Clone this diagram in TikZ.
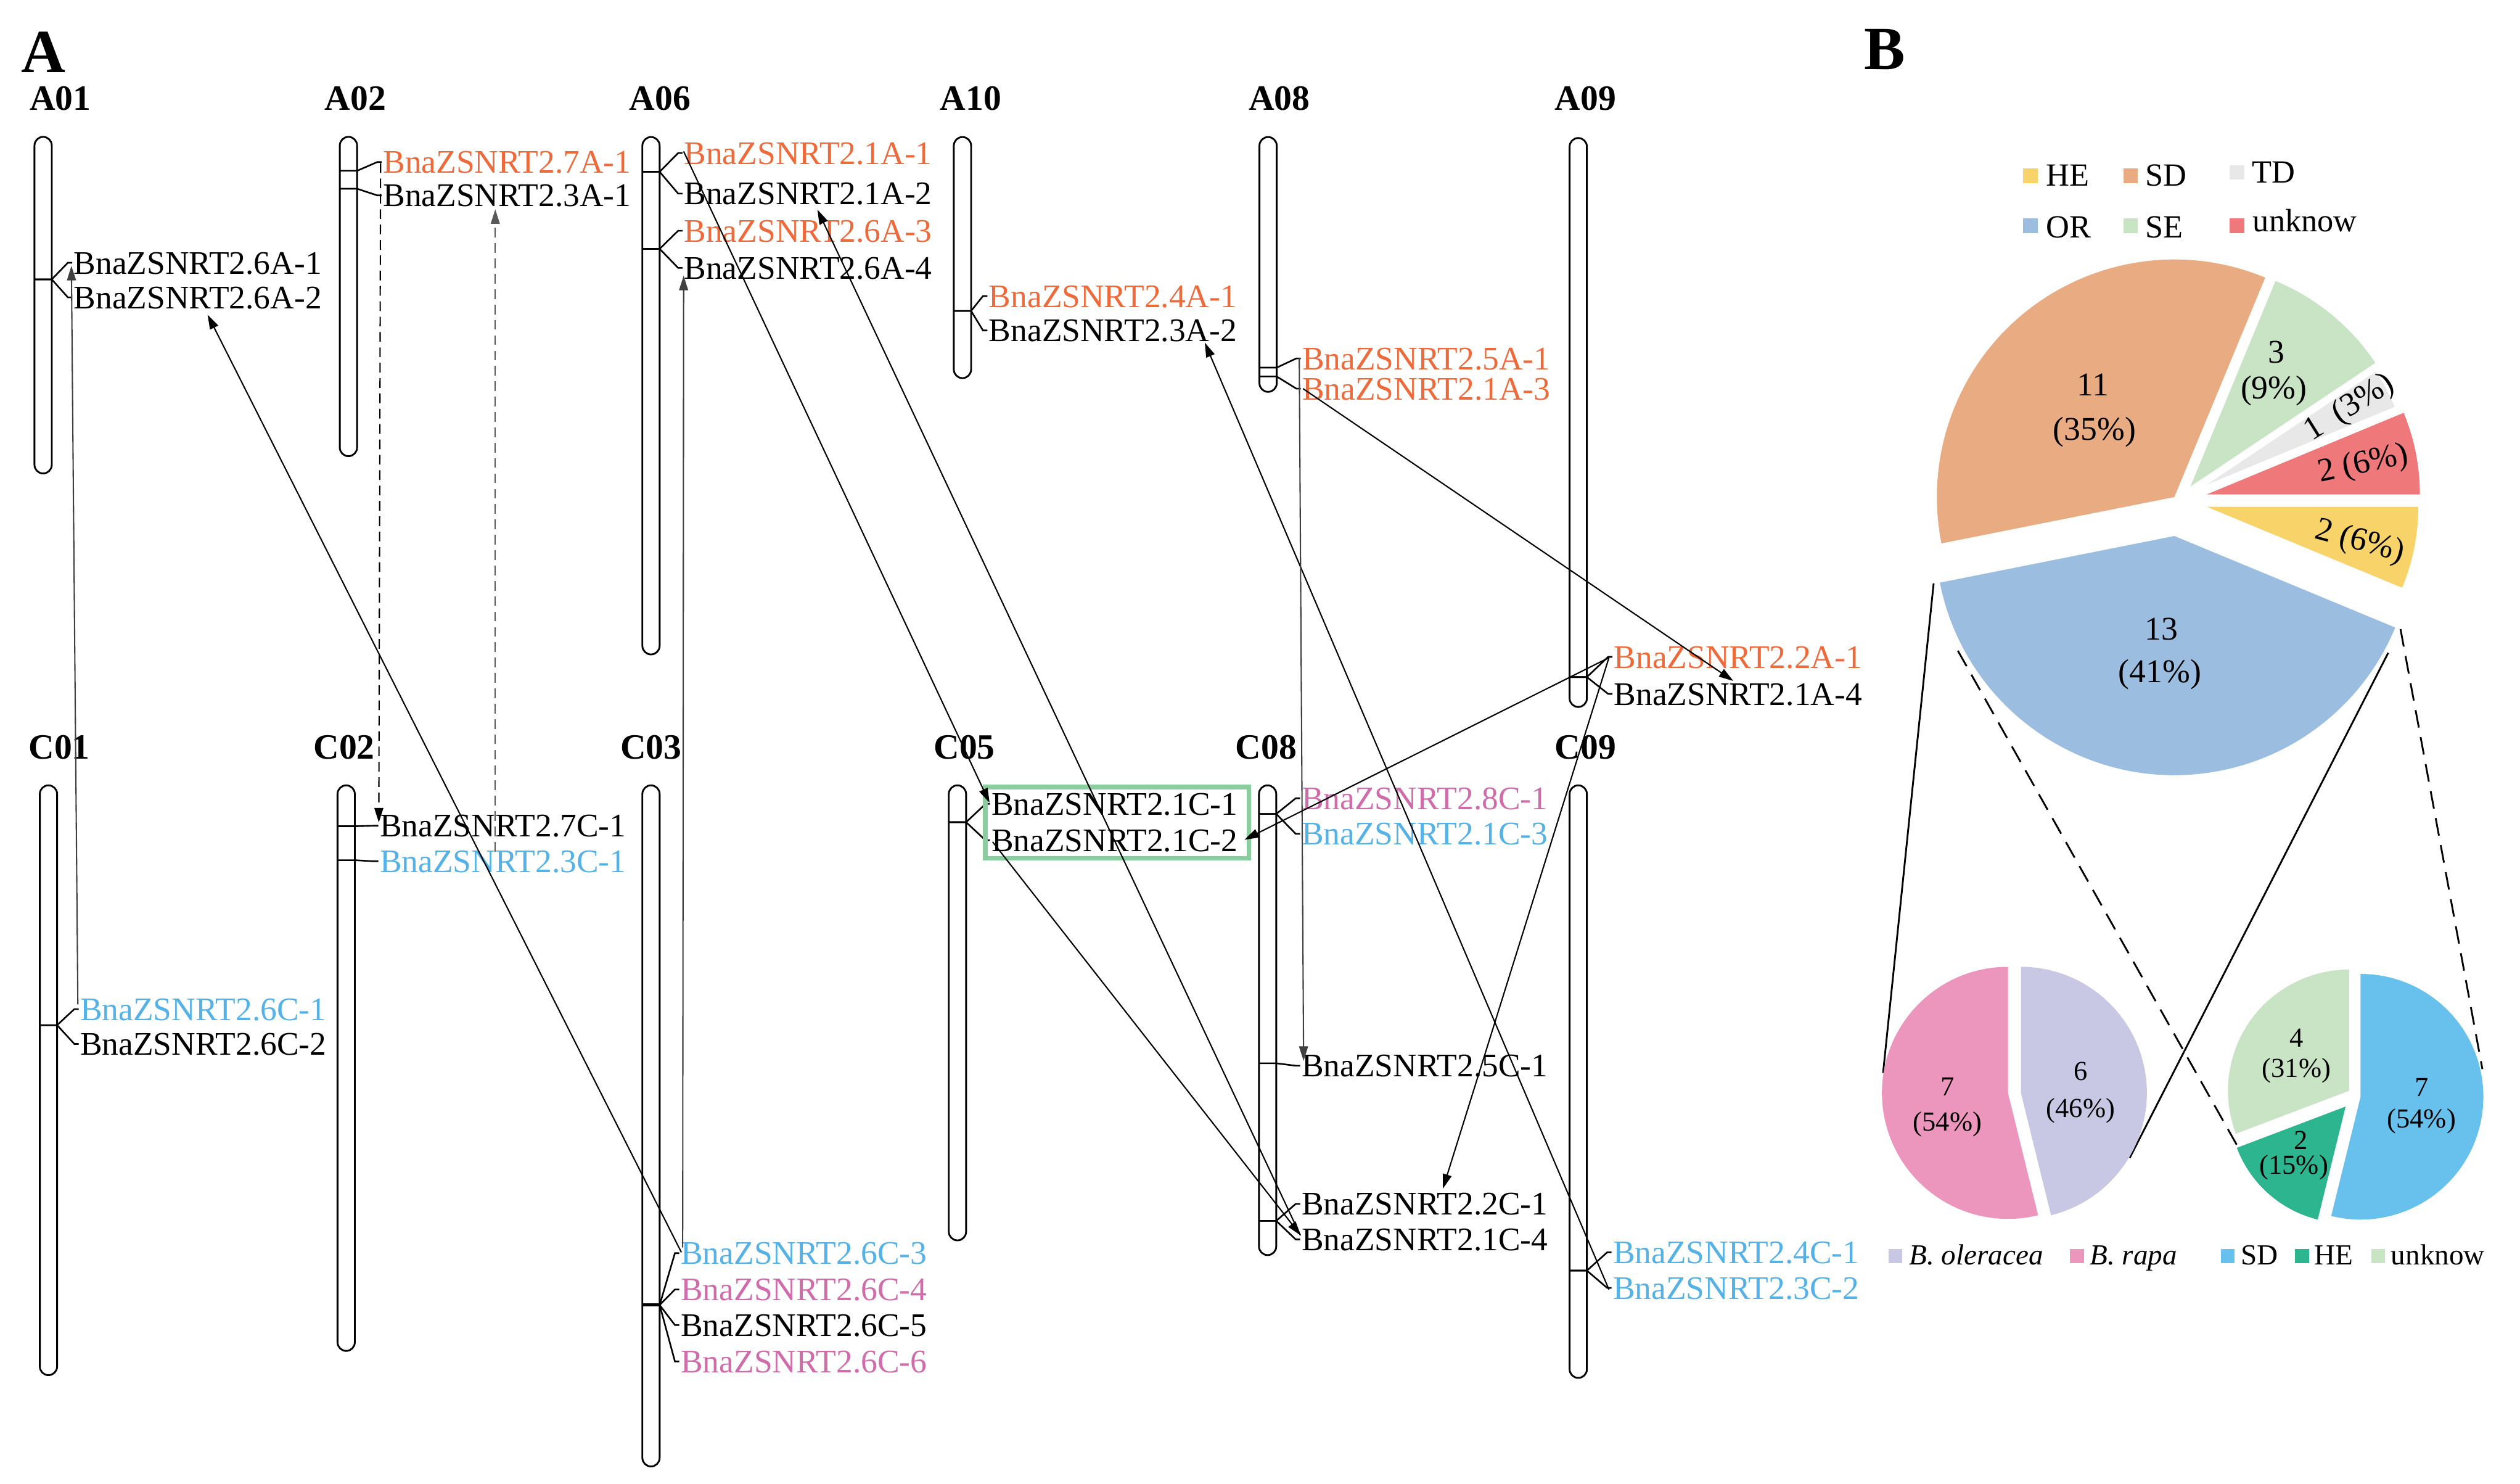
\documentclass[tikz,border=0pt]{standalone}
\usepackage{fontspec}
\setmainfont{Liberation Serif}
\usetikzlibrary{arrows.meta}
\definecolor{orng}{RGB}{239,106,58}
\definecolor{blu}{RGB}{84,178,230}
\definecolor{pnk}{RGB}{208,108,170}
\definecolor{boxg}{RGB}{140,205,160}
\definecolor{pSD}{RGB}{233,172,130}
\definecolor{pOR}{RGB}{155,189,224}
\definecolor{pSE}{RGB}{200,228,196}
\definecolor{pTD}{RGB}{232,232,232}
\definecolor{pUN}{RGB}{238,120,122}
\definecolor{pHE}{RGB}{247,211,106}
\definecolor{qRA}{RGB}{236,150,190}
\definecolor{qOL}{RGB}{200,200,228}
\definecolor{qSD}{RGB}{104,193,236}
\definecolor{qHE}{RGB}{44,181,142}
\definecolor{qUN}{RGB}{201,228,196}
\newcommand\gfont{\fontsize{20.4}{24}\selectfont}
\newcommand\pfont{\fontsize{20.5}{24}\selectfont}
\newcommand\spfont{\fontsize{17}{20}\selectfont}
\newcommand\lgfont{\fontsize{20}{24}\selectfont}
\newcommand\blfont{\fontsize{18}{22}\selectfont}
\newcommand\chrom[4]{\node[chromo, minimum height={#4-#3}] (#1) at (#2,{(#3+#4)/2}) {};}
\newcommand\gene[7]{%
 \draw[fk] ({#2-5.35},#3) -- ({#2+5.35},#3) -- ({#4-3.5},#5) -- ({#4-0.8},#5);
 \node[gl,text=#6] (#1) at (#4,#5) {#7};}
\newcommand\slice[6]{\fill[#1] (#2,#3) -- ++({cos(#4)*#6},{-sin(#4)*#6}) arc[start angle={-#4}, end angle={-#5}, radius=#6] -- cycle;}
\begin{document}
\begin{tikzpicture}[x=1pt,y=-1pt,
  chromo/.style={draw, line width=1.1pt, rounded corners=5.35pt, minimum width=10.7pt, inner sep=0pt},
  fk/.style={line width=1pt},
  gl/.style={anchor=west, inner sep=0pt, font=\gfont, text height=13.8pt, text depth=0pt},
  chl/.style={anchor=base, inner sep=0pt, font=\fontsize{22}{26}\selectfont\bfseries},
  conn/.style={line width=0.8pt, -{Triangle[length=9pt,width=5.5pt]}},
  dconn/.style={conn, dash pattern=on 6pt off 3.5pt},
  pl/.style={inner sep=0pt, font=\pfont},
  spl/.style={inner sep=0pt, font=\spfont},
  lg/.style={anchor=base west, inner sep=0pt, font=\lgfont},
  bl/.style={anchor=base west, inner sep=0pt, font=\blfont},
  sq/.style={fill=#1, inner sep=0pt, minimum size=9pt},
  bsq/.style={fill=#1, inner sep=0pt, minimum size=8.5pt},
  pieline/.style={line width=1.1pt},
  piedash/.style={line width=1.1pt, dash pattern=on 11pt off 6pt}]
\useasboundingbox (0,0) rectangle (1560,918);

% panel labels
\node[anchor=base west, inner sep=0pt, font=\fontsize{38}{40}\selectfont\bfseries] (pA) at (13,44.7) {A};
\node[anchor=base west, inner sep=0pt, font=\fontsize{38}{40}\selectfont\bfseries] (pB) at (1154,43) {B};

% chromosome labels
\node[chl] (lA01) at (37.3,68) {A01};
\node[chl] (lA02) at (220,68) {A02};
\node[chl] (lA06) at (408.5,68) {A06};
\node[chl] (lA10) at (601,68) {A10};
\node[chl] (lA08) at (792,68) {A08};
\node[chl] (lA09) at (981.5,68) {A09};
\node[chl] (lC01) at (36.7,469.5) {C01};
\node[chl] (lC02) at (213,469.5) {C02};
\node[chl] (lC03) at (403,469.5) {C03};
\node[chl] (lC05) at (597,469.5) {C05};
\node[chl] (lC08) at (783.7,469.5) {C08};
\node[chl] (lC09) at (981.5,469.5) {C09};

% chromosomes
\chrom{A01}{26.7}{84.7}{293}
\chrom{A02}{215.7}{84.7}{282.3}
\chrom{A06}{403}{84.8}{405}
\chrom{A10}{595.8}{84.8}{234}
\chrom{A08}{785}{84.8}{242.5}
\chrom{A09}{977}{85.4}{437.5}
\chrom{C01}{30}{486}{851}
\chrom{C02}{214.3}{486}{836}
\chrom{C03}{403}{486}{907.5}
\chrom{C05}{592.7}{486}{767.6}
\chrom{C08}{784.7}{486}{776.7}
\chrom{C09}{977}{486}{852.7}

% genes
\gene{g26A1}{26.7}{172.9}{45.5}{162.6}{black}{BnaZSNRT2.6A-1}
\gene{g26A2}{26.7}{172.9}{45.5}{184}{black}{BnaZSNRT2.6A-2}
\gene{g27A1}{215.7}{105.7}{237}{100.3}{orng}{BnaZSNRT2.7A-1}
\gene{g23A1}{215.7}{116.8}{237}{120.9}{black}{BnaZSNRT2.3A-1}
\gene{g21A1}{403}{106.3}{423.3}{94.7}{orng}{BnaZSNRT2.1A-1}
\gene{g21A2}{403}{106.3}{423.3}{119.8}{black}{BnaZSNRT2.1A-2}
\gene{g26A3}{403}{154}{423.3}{142.8}{orng}{BnaZSNRT2.6A-3}
\gene{g26A4}{403}{154}{423.3}{165.8}{black}{BnaZSNRT2.6A-4}
\gene{g24A1}{595.8}{192.4}{612}{183.2}{orng}{BnaZSNRT2.4A-1}
\gene{g23A2}{595.8}{192.4}{612}{204.5}{black}{BnaZSNRT2.3A-2}
\gene{g25A1}{785}{227.5}{806}{221.8}{orng}{BnaZSNRT2.5A-1}
\gene{g21A3}{785}{233}{806}{240.5}{orng}{BnaZSNRT2.1A-3}
\gene{g22A1}{977}{419}{999}{406.5}{orng}{BnaZSNRT2.2A-1}
\gene{g21A4}{977}{419}{999}{429.4}{black}{BnaZSNRT2.1A-4}
\gene{g26C1}{30}{634.4}{49.5}{624.5}{blu}{BnaZSNRT2.6C-1}
\gene{g26C2}{30}{634.4}{49.5}{646}{black}{BnaZSNRT2.6C-2}
\gene{g27C1}{214.3}{511.3}{235}{511}{black}{BnaZSNRT2.7C-1}
\gene{g23C1}{214.3}{532.3}{235}{533}{blu}{BnaZSNRT2.3C-1}
\gene{g26C3}{403}{807.6}{421.3}{775.5}{blu}{BnaZSNRT2.6C-3}
\gene{g26C4}{403}{807.6}{421.3}{798}{pnk}{BnaZSNRT2.6C-4}
\gene{g26C5}{403}{807.6}{421.3}{820}{black}{BnaZSNRT2.6C-5}
\gene{g26C6}{403}{807.6}{421.3}{842.5}{pnk}{BnaZSNRT2.6C-6}
\draw[line width=2pt] (397.65,807.6) -- (408.35,807.6);
\gene{g21C1}{592.7}{508.8}{613.6}{497.5}{black}{BnaZSNRT2.1C-1}
\gene{g21C2}{592.7}{508.8}{613.6}{520}{black}{BnaZSNRT2.1C-2}
\gene{g28C1}{784.7}{503.7}{805.6}{494}{pnk}{BnaZSNRT2.8C-1}
\gene{g21C3}{784.7}{503.7}{805.6}{516}{blu}{BnaZSNRT2.1C-3}
\gene{g25C1}{784.7}{658}{805.6}{659.5}{black}{BnaZSNRT2.5C-1}
\gene{g22C1}{784.7}{755.5}{805.6}{745}{black}{BnaZSNRT2.2C-1}
\gene{g21C4}{784.7}{755.5}{805.6}{767}{black}{BnaZSNRT2.1C-4}
\gene{g24C1}{977}{786.3}{998.4}{775}{blu}{BnaZSNRT2.4C-1}
\gene{g23C2}{977}{786.3}{998.4}{797}{blu}{BnaZSNRT2.3C-2}

% green box
\node[draw=boxg, line width=2.8pt, inner sep=0pt, minimum width=163pt, minimum height=44pt] (gbox) at (691.5,509) {};

% connector end points
\coordinate (s1) at (48.2,621.5); \coordinate (e1) at (44.2,164.5);
\coordinate (s2) at (421.8,775); \coordinate (e2) at (128.5,194.7);
\coordinate (s3) at (235.6,101); \coordinate (e3) at (234.5,509);
\coordinate (s4) at (306.6,527); \coordinate (e4) at (306.6,129.5);
\coordinate (s5) at (422.6,772); \coordinate (e5) at (423.2,170.6);
\coordinate (s6) at (423.2,93.7); \coordinate (e6) at (612.6,496.8);
\coordinate (s7) at (805,764.5); \coordinate (e7) at (506,129.7);
\coordinate (s8) at (614.5,521); \coordinate (e8) at (805.3,764.6);
\coordinate (s9) at (996,798); \coordinate (e9) at (745.8,212);
\coordinate (s10) at (804.3,221.4); \coordinate (e10) at (807,656.5);
\coordinate (s11) at (806.6,240.5); \coordinate (e11) at (1073,421.4);
\coordinate (s12) at (996,407); \coordinate (e12) at (770.3,519.7);
\coordinate (e13) at (893.2,735.6);

\draw[conn, black!75] (s1) -- (e1);
\draw[conn] (s2) -- (e2);
\draw[dconn] (s3) -- (e3);
\draw[dconn, black!65] (s4) -- (e4);
\draw[conn, black!75] (s5) -- (e5);
\draw[conn] (s6) -- (e6);
\draw[conn] (s7) -- (e7);
\draw[conn] (s8) -- (e8);
\draw[conn] (s9) -- (e9);
\draw[conn, black!75] (s10) -- (e10);
\draw[conn] (s11) -- (e11);
\draw[conn] (s12) -- (e12);
\draw[conn] (s12) -- (e13);

% ---------- panel B ----------
% legend
\node[sq=pHE] (kHE) at (1257,108.7) {};
\node[lg] (tHE) at (1266.5,115) {HE};
\node[sq=pSD] (kSD) at (1319,108.7) {};
\node[lg] (tSD) at (1328,115) {SD};
\node[sq=pTD] (kTD) at (1384.7,106.7) {};
\node[lg] (tTD) at (1394,113) {TD};
\node[sq=pOR] (kOR) at (1257,139.7) {};
\node[lg] (tOR) at (1266.5,147) {OR};
\node[sq=pSE] (kSE) at (1319,139.7) {};
\node[lg] (tSE) at (1328,147) {SE};
\node[sq=pUN] (kUN) at (1384.7,139.7) {};
\node[lg] (tUN) at (1394.5,143.5) {unknow};

% main pie
\slice{pSD}{1346}{307.6}{67.5}{191.25}{147}
\slice{pOR}{1346}{331.7}{191.25}{337.5}{148}
\slice{pHE}{1366}{313.6}{337.5}{360}{131}
\slice{pUN}{1366}{306}{0}{22.5}{132}
\slice{pTD}{1366}{300}{22.5}{33.75}{126}
\slice{pSE}{1356}{301}{33.75}{67.5}{137.6}

\node[pl] (n11) at (1295.5,238) {11};
\node[pl] (n35) at (1296.6,267.5) {(35\%)};
\node[pl] (n3) at (1409,218) {3};
\node[pl] (n9) at (1407.6,242) {(9\%)};
\node[pl, rotate=32] (n1) at (1454.5,252.7) {1\ \ (3\%)};
\node[pl, rotate=12] (n2u) at (1463,287.5) {2 (6\%)};
\node[pl, rotate=-15] (n2h) at (1460.7,335.7) {2 (6\%)};
\node[pl] (n13) at (1338,389.3) {13};
\node[pl] (n41) at (1337,417.4) {(41\%)};

% connecting lines
\coordinate (m1) at (1197,361); \coordinate (m2) at (1165.7,664);
\coordinate (m3) at (1478.4,404); \coordinate (m4) at (1318.4,716.5);
\coordinate (m5) at (1212,402.7); \coordinate (m6) at (1388.5,715.3);
\coordinate (m7) at (1486,389.3); \coordinate (m8) at (1536.7,661.6);
\draw[pieline] (m1) -- (m2);
\draw[pieline] (m3) -- (m4);
\draw[piedash] (m5) -- (m6);
\draw[piedash] (m7) -- (m8);

% small pies
\slice{qRA}{1243}{676.3}{90}{283.85}{78}
\slice{qOL}{1251}{676.3}{-76.15}{90}{78}
\slice{qSD}{1461.3}{678.7}{-103.85}{90}{76}
\slice{qUN}{1454.2}{675}{90}{200.77}{75}
\slice{qHE}{1452}{684.8}{200.77}{256.15}{72}

\node[spl] (r7) at (1205.5,672.6) {7};
\node[spl] (r54) at (1205.5,695.8) {(54\%)};
\node[spl] (o6) at (1288,663) {6};
\node[spl] (o46) at (1288,687.4) {(46\%)};
\node[spl] (u4) at (1421.6,642.2) {4};
\node[spl] (u31) at (1421.6,662.4) {(31\%)};
\node[spl] (h2) at (1424.3,705.5) {2};
\node[spl] (h15) at (1420,722.5) {(15\%)};
\node[spl] (d7) at (1499,673) {7};
\node[spl] (d54) at (1499,694) {(54\%)};

% bottom legend
\node[bsq=qOL] (kOL) at (1173.2,777.3) {};
\node[bl] (tOL) at (1181.6,782.5) {\itshape B. oleracea};
\node[bsq=qRA] (kRA) at (1285.7,777.3) {};
\node[bl] (tRA) at (1293.5,782.5) {\itshape B. rapa};
\node[bsq=qSD] (kSD2) at (1379,777.3) {};
\node[bl] (tSD2) at (1387,782.5) {SD};
\node[bsq=qHE] (kHE2) at (1425,777.3) {};
\node[bl] (tHE2) at (1432.5,782.5) {HE};
\node[bsq=qUN] (kUN2) at (1472.2,777.3) {};
\node[bl] (tUN2) at (1480,782.5) {unknow};
\end{tikzpicture}
\end{document}
